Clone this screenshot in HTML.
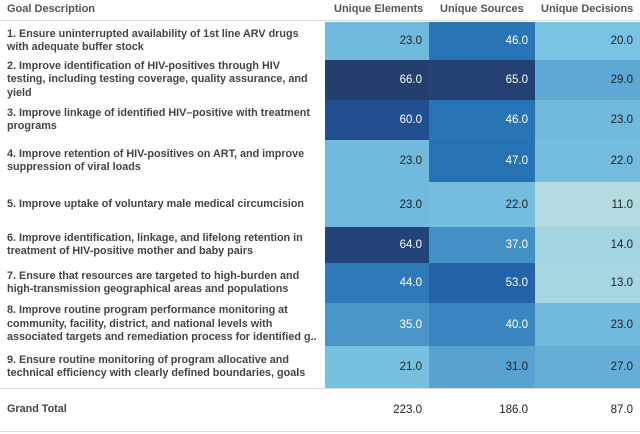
<!DOCTYPE html>
<html><head><meta charset="utf-8"><style>
body{margin:0;width:640px;height:434px;background:#fff;font-family:"Liberation Sans",Arial,sans-serif;overflow:hidden}
#wrap{position:relative;width:640px;height:434px}
.h{position:absolute;top:3px;font-size:11px;font-weight:bold;color:#555}
.lbl{position:absolute;left:7px;width:318px;font-size:10.8px;font-weight:bold;color:#444;line-height:13.5px;display:flex;align-items:center;white-space:pre-line}
.cell{position:absolute;font-size:11.5px;display:flex;align-items:center;justify-content:flex-end;padding-right:7px;box-sizing:border-box}
.line{position:absolute;left:0;width:640px;height:1px;background:#ddd}
</style></head><body>
<div id="wrap">
<div class="h" style="left:7px">Goal Description</div>
<div class="h" style="left:334px">Unique Elements</div>
<div class="h" style="left:440px">Unique Sources</div>
<div class="h" style="left:541px">Unique Decisions</div>
<div class="line" style="top:20px"></div>
<div class="line" style="top:388px"></div>
<div class="line" style="top:431px"></div>
<div class="lbl" style="top:388px;height:43px">Grand Total</div>
</div>
<script>
const goals=["1. Ensure uninterrupted availability of 1st line ARV drugs\nwith adequate buffer stock",
"2. Improve identification of HIV-positives through HIV\ntesting, including testing coverage, quality assurance, and\nyield",
"3. Improve linkage of identified HIV–positive with treatment\nprograms",
"4. Improve retention of HIV-positives on ART, and improve\nsuppression of viral loads",
"5. Improve uptake of voluntary male medical circumcision",
"6. Improve identification, linkage, and lifelong retention in\ntreatment of HIV-positive mother and baby pairs",
"7. Ensure that resources are targeted to high-burden and\nhigh-transmission geographical areas and populations",
"8. Improve routine program performance monitoring at\ncommunity, facility, district, and national levels with\nassociated targets and remediation process for identified g..",
"9. Ensure routine monitoring of program allocative and\ntechnical efficiency with clearly defined boundaries, goals"];
const uniqueElements=[23,66,60,23,23,64,44,35,21];
const uniqueSources=[46,65,46,47,22,37,53,40,31];
const uniqueDecisions=[20,29,23,22,11,14,13,23,27];
const totals=[223,186,87];
const rowTops=[22,60,100,140,182,227,263,303,346,388];
const colX=[325,429,535,640];
const stops=[[11,[180,219,224]],[20,[122,195,226]],[29,[94,168,212]],[35,[74,149,199]],[40,[58,134,192]],[46,[40,116,181]],[53,[35,99,168]],[60,[33,79,143]],[66,[35,63,109]]];
function color(v){
  if(v<=stops[0][0])return 'rgb('+stops[0][1]+')';
  for(let i=1;i<stops.length;i++){if(v<=stops[i][0]){const a=stops[i-1],b=stops[i];const t=(v-a[0])/(b[0]-a[0]);
    return 'rgb('+a[1].map((c,k)=>Math.round(c+(b[1][k]-c)*t)).join(',')+')';}}
  return 'rgb('+stops[stops.length-1][1]+')';
}
const wrap=document.getElementById('wrap');
const cols=[uniqueElements,uniqueSources,uniqueDecisions];
const colNames=['unique-elements','unique-sources','unique-decisions'];
goals.forEach((g,i)=>{
  const top=rowTops[i],h=rowTops[i+1]-top;
  const l=document.createElement('div');l.className='lbl';
  
  
  l.style.top=top+'px';l.style.height=h+'px';l.textContent=g;wrap.appendChild(l);
  cols.forEach((arr,j)=>{
    const c=document.createElement('div');c.className='cell';
    
    
    const v=arr[i];
    c.style.left=colX[j]+'px';c.style.width=(colX[j+1]-colX[j])+'px';
    c.style.top=top+'px';c.style.height=h+'px';c.style.background=color(v);
    c.style.color=v>=35?'#fff':'#222';c.textContent=v.toFixed(1);wrap.appendChild(c);
  });
});
totals.forEach((t,j)=>{
  const c=document.createElement('div');c.className='cell';
  
  
  c.style.left=colX[j]+'px';c.style.width=(colX[j+1]-colX[j])+'px';
  c.style.top='388px';c.style.height='43px';c.style.color='#222';c.textContent=t.toFixed(1);wrap.appendChild(c);
});
</script>
</body></html>
